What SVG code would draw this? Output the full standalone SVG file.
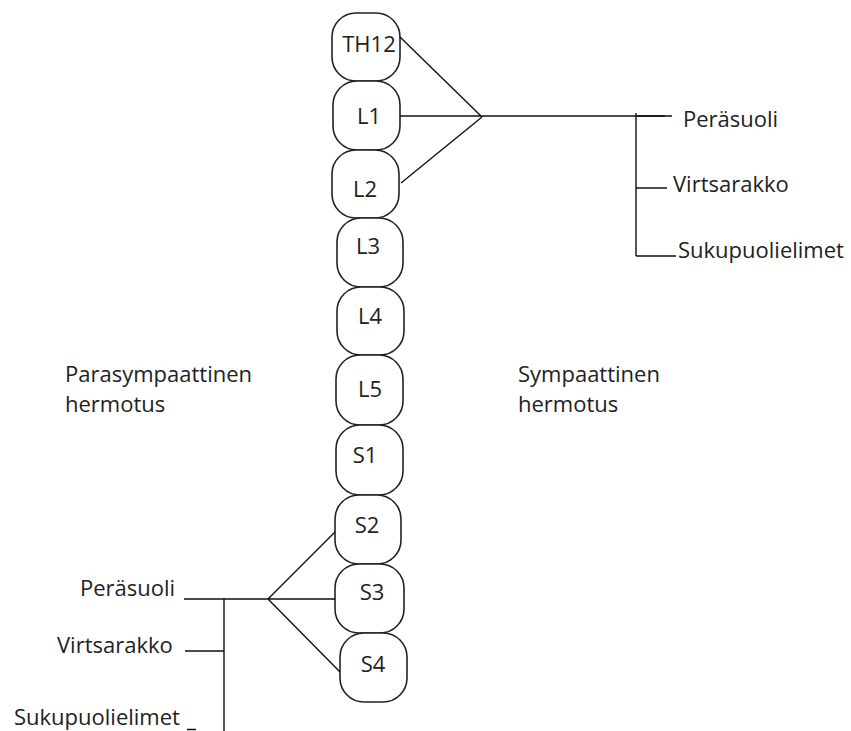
<svg xmlns="http://www.w3.org/2000/svg" width="851" height="731" viewBox="0 0 851 731">
<style>
.n{fill:#fff;stroke:#222;stroke-width:1.6}
.t{font-family:"Open Sans","Noto Sans",sans-serif;font-size:22px;fill:#222}
.c{text-anchor:middle}
.l{stroke:#111;stroke-width:1.4;fill:none}
</style>
<rect width="851" height="731" fill="#fff"/>
<g id="TH12"><rect class="n" x="332" y="13" width="68" height="68" rx="24"/><text class="t c" x="369" y="52">TH12</text></g>
<g id="L1"><rect class="n" x="333" y="81" width="67" height="69" rx="24"/><text class="t c" x="369" y="124">L1</text></g>
<g id="L2"><rect class="n" x="332" y="150" width="67" height="68" rx="24"/><text class="t c" x="365" y="197">L2</text></g>
<g id="L3"><rect class="n" x="337" y="218" width="66" height="69" rx="24"/><text class="t c" x="368" y="254">L3</text></g>
<g id="L4"><rect class="n" x="337" y="287" width="67" height="68" rx="24"/><text class="t c" x="370" y="324">L4</text></g>
<g id="L5"><rect class="n" x="336" y="355" width="67" height="70" rx="24"/><text class="t c" x="370" y="397">L5</text></g>
<g id="S1"><rect class="n" x="336" y="425" width="67" height="70" rx="24"/><text class="t c" x="365" y="463">S1</text></g>
<g id="S2"><rect class="n" x="335" y="495" width="66" height="69" rx="24"/><text class="t c" x="367" y="533">S2</text></g>
<g id="S3"><rect class="n" x="335" y="564" width="69" height="69" rx="24"/><text class="t c" x="372" y="600">S3</text></g>
<g id="S4"><rect class="n" x="340" y="633" width="67" height="69" rx="24"/><text class="t c" x="373" y="672">S4</text></g>
<g id="connectors">
<path class="l" d="M400 37 L482 117 M400 116 L665 116 M401 183 L482 117"/>
<path class="l" d="M636 113 V256 M636 116 H672 M636 188 H667 M636 256 H676"/>
<path class="l" d="M335 532 L268 599 M335 599 H184 M340 672 L268 599"/>
<path class="l" d="M224 598 V731 M185 651 H224 M187 729.5 H196"/>
</g>
<g id="labels">
<text class="t" x="683" y="127">Peräsuoli</text>
<text class="t" x="673" y="192">Virtsarakko</text>
<text class="t" x="678" y="258">Sukupuolielimet</text>
<text class="t" x="518" y="382">Sympaattinen</text>
<text class="t" x="518" y="412">hermotus</text>
<text class="t" x="65" y="382">Parasympaattinen</text>
<text class="t" x="65" y="412">hermotus</text>
<text class="t" x="80" y="596">Peräsuoli</text>
<text class="t" x="57" y="653">Virtsarakko</text>
<text class="t" x="14" y="725">Sukupuolielimet</text>
</g>
</svg>
